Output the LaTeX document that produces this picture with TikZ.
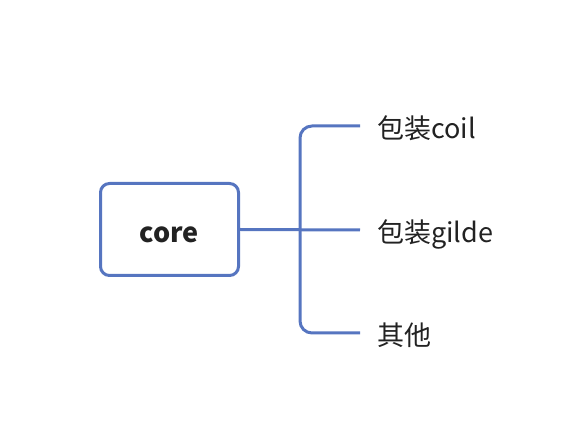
\documentclass[tikz,border=0pt]{standalone}
\usepackage{fontspec}
\setmainfont{Noto Sans CJK SC}
\definecolor{branchblue}{HTML}{5675C0}
\definecolor{textgray}{HTML}{222222}
\tikzset{
	corebox/.style={draw=branchblue,line width=3pt,rounded corners=9pt,minimum width=138pt,minimum height=92pt,text height=29pt,text depth=3pt,text=textgray,font=\fontsize{27}{31}\selectfont\bfseries},
	leaf/.style={anchor=west,inner xsep=17pt,inner ysep=0pt,text height=29pt,text depth=3pt,text=textgray,font=\fontsize{27}{31}\selectfont},
	branch/.style={draw=branchblue,line width=3pt,rounded corners=12pt}
}
\begin{document}
\begin{tikzpicture}[x=1pt,y=-1pt]
		\useasboundingbox (0,0) rectangle (574,438);
		
		\node[corebox] (core) at (169.5,229.5) {core};
		
		\node[leaf] (coil) at (360,126) {包装coil};
		\node[leaf] (gilde) at (360,230) {包装gilde};
		\node[leaf] (other) at (360,333) {其他};
		
		\coordinate (fork) at (300,230);
		
		\draw[branch] (core.east) -- (gilde.west);
		\draw[branch] (coil.west) -| (fork) |- (other.west);
	\end{tikzpicture}
\end{document}
